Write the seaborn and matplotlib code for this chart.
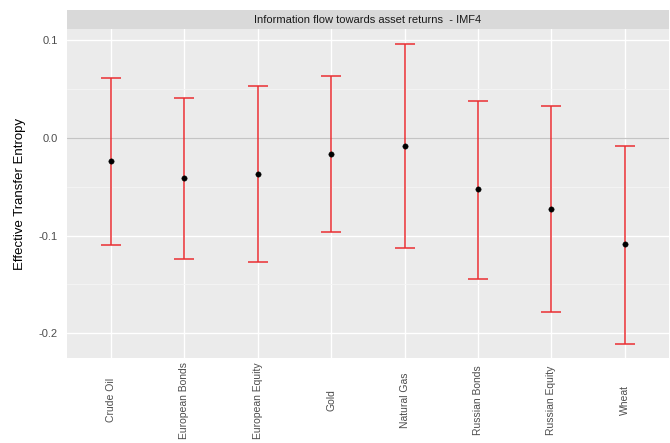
import matplotlib
matplotlib.use("Agg")
import matplotlib.pyplot as plt
import matplotlib.patches as mpatches
import matplotlib.ticker as mticker
import numpy as np
import pandas as pd
import seaborn as sns

# Effective transfer entropy estimates with confidence bounds
assets = ["Crude Oil", "European Bonds", "European Equity", "Gold",
          "Natural Gas", "Russian Bonds", "Russian Equity", "Wheat"]
ete = [-0.0237, -0.0406, -0.0369, -0.0165, -0.0084, -0.0524, -0.0727, -0.109]
lower = [-0.110, -0.1237, -0.1267, -0.0961, -0.1126, -0.1442, -0.178, -0.2107]
upper = [0.0617, 0.0413, 0.0533, 0.063, 0.096, 0.038, 0.033, -0.0077]

df = pd.DataFrame({"asset": assets, "ete": ete, "lower": lower, "upper": upper})

sns.set_theme(style="darkgrid")
plt.rcParams["font.family"] = ["Liberation Sans", "DejaVu Sans"]

fig = plt.figure(figsize=(6.7, 4.43), dpi=100)
ax = fig.add_axes([66.7 / 670, 1 - 358 / 443, (669 - 66.7) / 670, (358 - 29.3) / 443])
ax.set_facecolor("#EBEBEB")

# reference line at zero
ax.axhline(0, color="#C4C4C4", lw=0.9, zorder=1.5)

# confidence intervals
ax.errorbar(df["asset"], df["ete"],
            yerr=[df["ete"] - df["lower"], df["upper"] - df["ete"]],
            fmt="none", ecolor="#EA2F33", elinewidth=1.1, capsize=7,
            capthick=1.1, zorder=3)

sns.scatterplot(data=df, x="asset", y="ete", ax=ax, color="black",
                s=15, edgecolor="black", linewidth=0.3, zorder=4)

ax.set_xlim(-0.6, 7.6)
ax.set_ylim(-0.2253, 0.1113)
ax.yaxis.set_major_locator(mticker.FixedLocator([-0.2, -0.1, 0.0, 0.1]))
ax.yaxis.set_minor_locator(mticker.FixedLocator([-0.15, -0.05, 0.05]))
ax.yaxis.set_major_formatter(mticker.FuncFormatter(lambda v, p: f"{v:.1f}"))

ax.grid(which="major", color="white", lw=1.0)
ax.grid(which="minor", axis="y", color="#F5F5F5", lw=0.6)
ax.set_axisbelow(True)
for s in ax.spines.values():
    s.set_visible(False)

ax.tick_params(axis="both", which="major", length=2.5, width=0.8,
               color="#4D4D4D", labelcolor="#4D4D4D", labelsize=8)
ax.tick_params(axis="y", which="minor", length=0)
ax.tick_params(axis="y", pad=4)
ax.tick_params(axis="x", pad=28)
for lab in ax.get_xticklabels():
    lab.set_rotation(90)
    lab.set_va("center")
    lab.set_ha("center")
    lab.set_fontsize(7.5)

ax.set_xlabel("")
ax.set_ylabel("Effective Transfer Entropy", fontsize=9.5, color="black", labelpad=9)

# facet strip
strip_h = (29.3 - 10) / (358 - 29.3)
strip = mpatches.Rectangle((0, 1), 1, strip_h, transform=ax.transAxes,
                           facecolor="#D9D9D9", edgecolor="none", clip_on=False)
ax.add_patch(strip)
ax.text(0.5, 1 + strip_h / 2, "Information flow towards asset returns  - IMF4",
        transform=ax.transAxes, ha="center", va="center", fontsize=8,
        color="#1A1A1A")

fig.savefig("out.png", dpi=100)
